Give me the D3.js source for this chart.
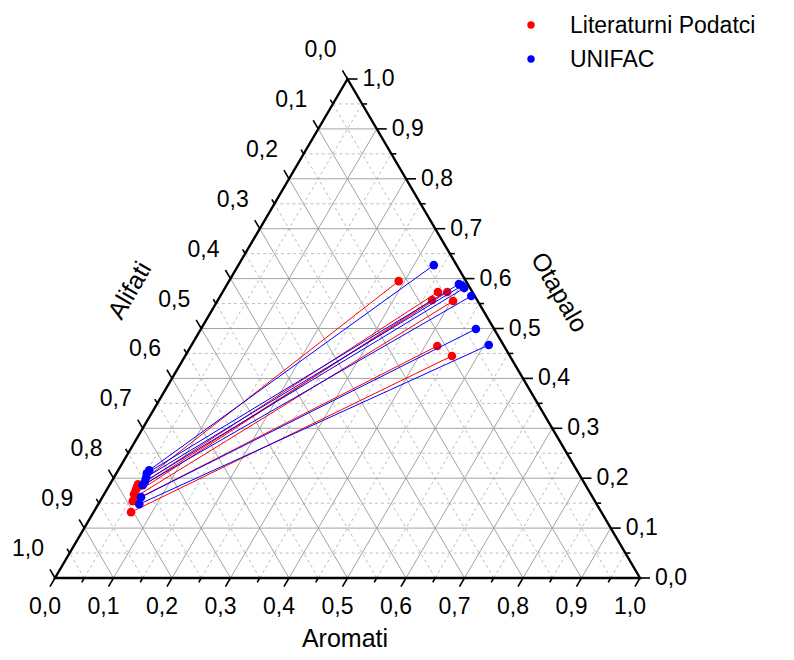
<!DOCTYPE html>
<html>
<head>
<meta charset="utf-8">
<script src="https://cdn.jsdelivr.net/npm/d3@7"></script>
<style>
  html, body { margin: 0; padding: 0; background: #fff; }
  svg { display: block; font-family: Arial, "Liberation Sans", sans-serif; }
</style>
</head>
<body>
<svg id="chart" width="794" height="660"></svg>
<script>
// Ternary tie-line chart: Aromati (bottom), Otapalo (right), Alifati (left)

const seriesNames = ["Literaturni Podatci", "UNIFAC"];
const seriesColors = ["#ff0000", "#0000ff"];

// Literaturni podatci: raffinate (Alifati-rich) end and extract (Otapalo-rich) end
const litRafAromati = [0.048, 0.049, 0.050, 0.051, 0.056, 0.056, 0.064];
const litRafOtapalo = [0.188, 0.182, 0.176, 0.168, 0.162, 0.154, 0.132];
const litExtAromati = [0.290, 0.368, 0.384, 0.366, 0.403, 0.421, 0.456];
const litExtOtapalo = [0.595, 0.573, 0.573, 0.557, 0.555, 0.465, 0.445];

// UNIFAC
const uniRafAromati = [0.053, 0.052, 0.055, 0.057, 0.057, 0.066, 0.070];
const uniRafOtapalo = [0.216, 0.210, 0.202, 0.194, 0.186, 0.162, 0.148];
const uniExtAromati = [0.334, 0.396, 0.403, 0.409, 0.429, 0.470, 0.508];
const uniExtOtapalo = [0.627, 0.589, 0.586, 0.581, 0.565, 0.499, 0.467];

const tickValues = d3.range(0, 11).map(i => i / 10);
const minorTickValues = d3.range(0, 10).map(i => i / 10 + 0.05);
const tickFormat = v => d3.format(".1f")(v).replace(".", ",");

const axisTitles = { bottom: "Aromati", right: "Otapalo", left: "Alifati" };

// ---------- geometry ----------
const svg = d3.select("#chart");
// horizontal position uses Aromati + Otapalo/2, vertical uses Otapalo
const sx = d3.scaleLinear().domain([0, 1]).range([55, 640]);
const sy = d3.scaleLinear().domain([0, 1]).range([578, 79]);
// project (Aromati, Otapalo) -> pixel
const P = (a, o) => [sx(a + o / 2), sy(o)];

const gGrid = svg.append("g");
const gAxis = svg.append("g");
const gData = svg.append("g");
const gText = svg.append("g");

// grid lines every 0.05: solid at tenths, dashed in between
const gridVals = d3.range(1, 20).map(i => i / 20);
gridVals.forEach((v, i) => {
  const major = i % 2 === 1;
  const style = sel => sel
    .attr("stroke", major ? "#a3a3a3" : "#bdbdbd")
    .attr("stroke-width", 1)
    .attr("stroke-dasharray", major ? null : "3,3")
    .attr("fill", "none");
  // constant Otapalo (horizontal)
  let p1 = P(0, v), p2 = P(1 - v, v);
  gGrid.append("line").attr("x1", p1[0]).attr("y1", p1[1]).attr("x2", p2[0]).attr("y2", p2[1]).call(style);
  // constant Aromati
  p1 = P(v, 0); p2 = P(v, 1 - v);
  gGrid.append("line").attr("x1", p1[0]).attr("y1", p1[1]).attr("x2", p2[0]).attr("y2", p2[1]).call(style);
  // constant Alifati: Aromati + Otapalo = 1 - v
  p1 = P(1 - v, 0); p2 = P(0, 1 - v);
  gGrid.append("line").attr("x1", p1[0]).attr("y1", p1[1]).attr("x2", p2[0]).attr("y2", p2[1]).call(style);
});

// triangle outline
const A = P(0, 0), B = P(1, 0), C = P(0, 1);
gAxis.append("path")
  .attr("d", d3.line()([A, B, C]) + "Z")
  .attr("fill", "none").attr("stroke", "#000").attr("stroke-width", 2.4)
  .attr("stroke-linejoin", "miter");

// unit directions of tick marks (pointing outward along grid lines)
const unit = (dx, dy) => { const l = Math.hypot(dx, dy); return [dx / l, dy / l]; };
const dirBottom = unit(A[0] - C[0], A[1] - C[1]);   // down-left, parallel to left side
const dirRight = [1, 0];                             // horizontal
const dirLeft = unit(C[0] - B[0], C[1] - B[1]);     // up-left, parallel to right side

function drawTicks(pointAt, dir, vals, length) {
  vals.forEach(v => {
    const p = pointAt(v);
    gAxis.append("line")
      .attr("x1", p[0]).attr("y1", p[1])
      .attr("x2", p[0] + dir[0] * length).attr("y2", p[1] + dir[1] * length)
      .attr("stroke", "#000").attr("stroke-width", 1.6);
  });
}
const bottomAt = v => P(v, 0);
const rightAt = v => P(1 - v, v);
const leftAt = v => P(0, 1 - v);

[[bottomAt, dirBottom], [rightAt, dirRight], [leftAt, dirLeft]].forEach(([at, dir]) => {
  drawTicks(at, dir, tickValues, 10);
  drawTicks(at, dir, minorTickValues, 5);
});

// tick labels
const labelFont = 23;
tickValues.forEach(v => {
  let p = bottomAt(v);
  gText.append("text").attr("x", p[0] - 10).attr("y", p[1] + 28)
    .attr("text-anchor", "middle").attr("dominant-baseline", "central")
    .attr("font-size", labelFont).text(tickFormat(v));
  p = rightAt(v);
  gText.append("text").attr("x", p[0] + 15).attr("y", p[1] - 1)
    .attr("text-anchor", "start").attr("dominant-baseline", "central")
    .attr("font-size", labelFont).text(tickFormat(v));
  p = leftAt(v);
  gText.append("text").attr("x", p[0] - 27).attr("y", p[1] - 30)
    .attr("text-anchor", "middle").attr("dominant-baseline", "central")
    .attr("font-size", labelFont).text(tickFormat(v));
});

// axis titles
const titleFont = 25;
gText.append("text").attr("x", 345).attr("y", 638)
  .attr("text-anchor", "middle").attr("dominant-baseline", "central")
  .attr("font-size", titleFont).text(axisTitles.bottom);
gText.append("text").attr("transform", "translate(560,292) rotate(60)")
  .attr("text-anchor", "middle").attr("dominant-baseline", "central")
  .attr("font-size", titleFont).text(axisTitles.right);
gText.append("text").attr("transform", "translate(129,290) rotate(-60)")
  .attr("text-anchor", "middle").attr("dominant-baseline", "central")
  .attr("font-size", titleFont).text(axisTitles.left);

// ---------- data ----------
const series = [
  { raf: litRafAromati.map((a, i) => [a, litRafOtapalo[i]]), ext: litExtAromati.map((a, i) => [a, litExtOtapalo[i]]) },
  { raf: uniRafAromati.map((a, i) => [a, uniRafOtapalo[i]]), ext: uniExtAromati.map((a, i) => [a, uniExtOtapalo[i]]) }
];

series.forEach((s, si) => {
  const g = gData.append("g");
  s.raf.forEach((r, i) => {
    const p1 = P(r[0], r[1]), p2 = P(s.ext[i][0], s.ext[i][1]);
    g.append("line").attr("x1", p1[0]).attr("y1", p1[1]).attr("x2", p2[0]).attr("y2", p2[1])
      .attr("stroke", seriesColors[si]).attr("stroke-width", 1);
  });
  s.raf.concat(s.ext).forEach(d => {
    const p = P(d[0], d[1]);
    g.append("circle").attr("cx", p[0]).attr("cy", p[1]).attr("r", 4.3)
      .attr("fill", seriesColors[si]);
  });
});

// legend
seriesNames.forEach((name, i) => {
  const y = 25 + i * 34;
  gText.append("circle").attr("cx", 531).attr("cy", y).attr("r", 3.7).attr("fill", seriesColors[i]);
  gText.append("text").attr("x", 570).attr("y", y).attr("dominant-baseline", "central")
    .attr("font-size", 23).text(name);
});
</script>
</body>
</html>
